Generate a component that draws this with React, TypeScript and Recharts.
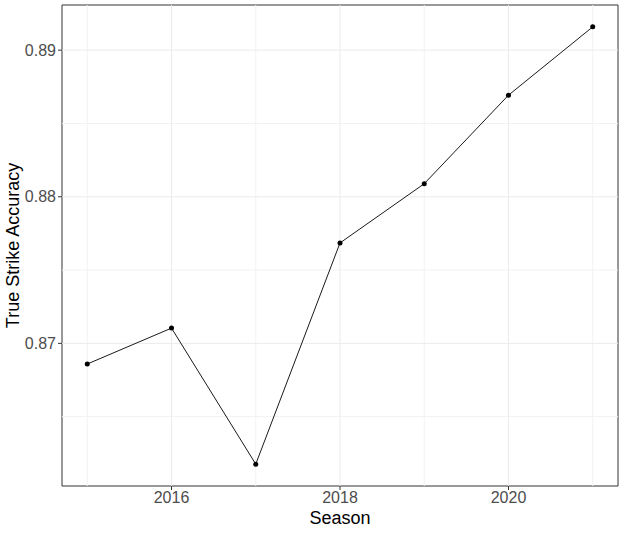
import {
  Label,
  Line,
  LineChart,
  ReferenceArea,
  ReferenceLine,
  XAxis,
  YAxis,
} from "recharts";

const seasons = [2015, 2016, 2017, 2018, 2019, 2020, 2021];
const accuracy = [0.86859, 0.87104, 0.86176, 0.87685, 0.88089, 0.88693, 0.89159];

const xTicks = [2016, 2018, 2020];
const xMinor = [2015, 2017, 2019, 2021];
const yTicks = [0.87, 0.88, 0.89];
const yMinor = [0.865, 0.875, 0.885];

const data = seasons.map((s, i) => ({ season: s, acc: accuracy[i] }));

// ggplot-style 5% expansion
const expand = (vals: number[]): [number, number] => {
  const lo = Math.min(...vals);
  const hi = Math.max(...vals);
  const pad = (hi - lo) * 0.05;
  return [lo - pad, hi + pad];
};
const xDomain = expand(seasons);
const yDomain = expand(accuracy);

const font = "'Liberation Sans', Arial, sans-serif";
const gridMajor = "#EBEBEB";
const gridMinor = "#F2F2F2";
const ink = "#333333";

export default function App() {
  return (
    <div style={{ position: "absolute", left: 0, top: 0, width: 624, height: 533, background: "#fff" }}>
      <LineChart
        width={624}
        height={533}
        data={data}
        margin={{ top: 5, right: 6, bottom: 27, left: 0 }}
        style={{ fontFamily: font }}
      >
        <XAxis
          dataKey="season"
          type="number"
          domain={xDomain}
          ticks={xTicks}
          allowDataOverflow
          axisLine={false}
          tickLine={{ stroke: ink }}
          tickSize={4}
          tickMargin={2}
          height={20}
          tick={{ fontSize: 16, fill: "#4D4D4D", fontFamily: font }}
        >
          <Label
            content={(p: any) => {
              const vb = p.viewBox;
              return (
                <text
                  x={vb.x + vb.width / 2}
                  y={524}
                  textAnchor="middle"
                  fontSize={18}
                  fill="#000"
                  fontFamily={font}
                >
                  Season
                </text>
              );
            }}
          />
        </XAxis>
        <YAxis
          type="number"
          domain={yDomain}
          ticks={yTicks}
          allowDataOverflow
          axisLine={false}
          tickLine={{ stroke: ink }}
          tickSize={4}
          tickMargin={2}
          width={62}
          tickFormatter={(v) => Number(v).toFixed(2)}
          tick={{ fontSize: 16, fill: "#4D4D4D", fontFamily: font }}
        >
          <Label
            content={(p: any) => {
              const vb = p.viewBox;
              const cy = vb.y + vb.height / 2;
              return (
                <text
                  x={19}
                  y={cy}
                  transform={`rotate(-90, 19, ${cy})`}
                  textAnchor="middle"
                  fontSize={18}
                  fill="#000"
                  fontFamily={font}
                >
                  True Strike Accuracy
                </text>
              );
            }}
          />
        </YAxis>
        {yMinor.map((v) => (
          <ReferenceLine key={"ym" + v} y={v} stroke={gridMinor} strokeWidth={1} />
        ))}
        {xMinor.map((v) => (
          <ReferenceLine key={"xm" + v} x={v} stroke={gridMinor} strokeWidth={1} />
        ))}
        {yTicks.map((v) => (
          <ReferenceLine key={"y" + v} y={v} stroke={gridMajor} strokeWidth={1} />
        ))}
        {xTicks.map((v) => (
          <ReferenceLine key={"x" + v} x={v} stroke={gridMajor} strokeWidth={1} />
        ))}
        <ReferenceArea
          x1={xDomain[0]}
          x2={xDomain[1]}
          y1={yDomain[0]}
          y2={yDomain[1]}
          fill="none"
          fillOpacity={0}
          stroke={ink}
          strokeWidth={1}
          ifOverflow="visible"
        />
        <Line
          dataKey="acc"
          type="linear"
          stroke="#1a1a1a"
          strokeWidth={1}
          dot={{ r: 2.5, fill: "#000", stroke: "none" }}
          activeDot={false}
          isAnimationActive={false}
        />
      </LineChart>
    </div>
  );
}
